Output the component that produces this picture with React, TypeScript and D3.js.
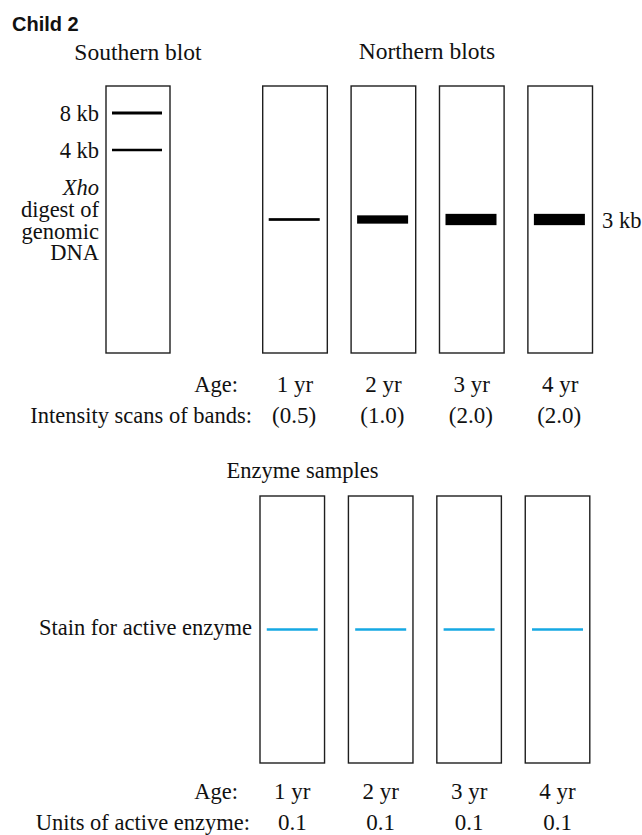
import React from "react";
import * as d3 from "d3";

// ---- data ----
const chartTitle = "Child 2";
const southernTitle = "Southern blot";
const northernTitle = "Northern blots";
const enzymeTitle = "Enzyme samples";
const southernSizesKb = [8, 4];
const southernLabels = ["8 kb", "4 kb"];
const southernNote = ["Xho", "digest of", "genomic", "DNA"];
const ages = ["1 yr", "2 yr", "3 yr", "4 yr"];
const intensities = [0.5, 1.0, 2.0, 2.0];
const northernBandLabel = "3 kb";
const ageLabel = "Age:";
const intensityLabel = "Intensity scans of bands:";
const stainLabel = "Stain for active enzyme";
const unitsLabel = "Units of active enzyme:";
const enzymeUnits = [0.1, 0.1, 0.1, 0.1];

const SERIF = "'Liberation Serif', 'Times New Roman', serif";
const SANS = "'Liberation Sans', Arial, sans-serif";
const BOX = "#1e1e1e";
const CYAN = "#16a8e3";

export default function App() {
  const W = 642;
  const H = 835;

  // lanes
  const northX = d3.scaleBand<string>().domain(ages).range([262.7, 592.5]).paddingInner(0.269).paddingOuter(0);
  const enzX = d3.scaleBand<string>().domain(ages).range([260, 589.8]).paddingInner(0.27).paddingOuter(0);
  const southX = d3.scaleBand<string>().domain([southernTitle]).range([106, 170]);

  // vertical extents
  const blotTop = 86, blotBottom = 353;
  const enzTop = 496, enzBottom = 763;
  const southY = d3.scaleLog().domain([8, 4]).range([113, 150]);
  const northBandY = (blotTop + blotBottom) / 2;
  const enzBandY = (enzTop + enzBottom) / 2;
  const bandThickness = d3.scaleLinear().domain([0.5, 1, 2]).range([2.7, 8.3, 11.3]);
  const fmt = d3.format(".1f");

  const bandW = 51;
  const southBandThick = [3, 2.6];

  return (
    <svg width={W} height={H} viewBox={`0 0 ${W} ${H}`}
      style={{ position: "absolute", left: 0, top: 0, background: "#fff" }}>
      <rect x={0} y={0} width={W} height={H} fill="#fff" />
      <text x={12} y={31} fontFamily={SANS} fontWeight="bold" fontSize={20} fill="#111">{chartTitle}</text>

      {/* titles */}
      <text x={138} y={60} textAnchor="middle" fontFamily={SERIF} fontSize={23.5} fill="#111">{southernTitle}</text>
      <text x={427} y={59} textAnchor="middle" fontFamily={SERIF} fontSize={23.5} fill="#111">{northernTitle}</text>

      {/* Southern blot */}
      <rect x={southX(southernTitle)} y={blotTop} width={southX.bandwidth()} height={blotBottom - blotTop}
        fill="none" stroke={BOX} strokeWidth={1.4} />
      {southernSizesKb.map((kb, i) => (
        <g key={kb}>
          <line x1={southX(southernTitle)! + 6} x2={southX(southernTitle)! + 56} y1={southY(kb)} y2={southY(kb)}
            stroke="#000" strokeWidth={southBandThick[i]} />
          <text x={99} y={southY(kb) + 7.5} textAnchor="end" fontFamily={SERIF} fontSize={22.5} fill="#111">{southernLabels[i]}</text>
        </g>
      ))}
      <text x={99} y={195} textAnchor="end" fontFamily={SERIF} fontSize={22.5} fill="#111">
        {southernNote.map((t, i) => (
          <tspan key={t} x={99} dy={i === 0 ? 0 : 21.8} fontStyle={i === 0 ? "italic" : "normal"}>{t}</tspan>
        ))}
      </text>

      {/* Northern blots */}
      {ages.map((a, i) => {
        const x0 = northX(a)!;
        const cx = x0 + northX.bandwidth() / 2;
        const t = bandThickness(intensities[i]);
        return (
          <g key={a}>
            <rect x={x0} y={blotTop} width={northX.bandwidth()} height={blotBottom - blotTop}
              fill="none" stroke={BOX} strokeWidth={1.4} />
            <rect x={cx - bandW / 2 - 0.8} y={northBandY - t / 2} width={bandW} height={t} fill="#000" />
            <text x={cx} y={392} textAnchor="middle" fontFamily={SERIF} fontSize={23} fill="#111">{a}</text>
            <text x={cx - 1} y={423} textAnchor="middle" fontFamily={SERIF} fontSize={23} fill="#111">{`(${fmt(intensities[i])})`}</text>
          </g>
        );
      })}
      <text x={602} y={228} fontFamily={SERIF} fontSize={22.5} fill="#111">{northernBandLabel}</text>
      <text x={238} y={392} textAnchor="end" fontFamily={SERIF} fontSize={22.5} fill="#111">{ageLabel}</text>
      <text x={252} y={423} textAnchor="end" fontFamily={SERIF} fontSize={22.5} fill="#111">{intensityLabel}</text>

      {/* Enzyme samples */}
      <text x={302.5} y={478} textAnchor="middle" fontFamily={SERIF} fontSize={22.5} fill="#111">{enzymeTitle}</text>
      {ages.map((a, i) => {
        const x0 = enzX(a)!;
        const cx = x0 + enzX.bandwidth() / 2;
        return (
          <g key={a}>
            <rect x={x0} y={enzTop} width={enzX.bandwidth()} height={enzBottom - enzTop}
              fill="none" stroke={BOX} strokeWidth={1.4} />
            <line x1={cx - bandW / 2} x2={cx + bandW / 2} y1={enzBandY} y2={enzBandY} stroke={CYAN} strokeWidth={2.7} />
            <text x={cx} y={799} textAnchor="middle" fontFamily={SERIF} fontSize={23} fill="#111">{a}</text>
            <text x={cx} y={830} textAnchor="middle" fontFamily={SERIF} fontSize={23} fill="#111">{fmt(enzymeUnits[i])}</text>
          </g>
        );
      })}
      <text x={252} y={635} textAnchor="end" fontFamily={SERIF} fontSize={22.5} fill="#111">{stainLabel}</text>
      <text x={238} y={799} textAnchor="end" fontFamily={SERIF} fontSize={22.5} fill="#111">{ageLabel}</text>
      <text x={250} y={830} textAnchor="end" fontFamily={SERIF} fontSize={22.5} fill="#111">{unitsLabel}</text>
    </svg>
  );
}
